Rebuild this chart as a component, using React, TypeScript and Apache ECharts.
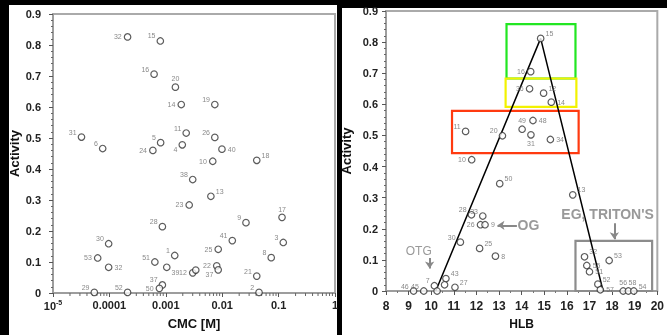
import React, { useEffect, useRef } from "react";
import * as echarts from "echarts";

// ---------- Left panel: Activity vs CMC ----------
const leftIds = ["32","15","16","20","14","19","31","6","5","24","11","26","4","40","18","10","38","13","23","17","9","41","3","25","8","1","28","22","37","12","","39","21","2","30","53","32","51","37","50","29","52"];
const leftCmc = [2.1e-4,8.0e-4,6.2e-4,1.48e-3,1.88e-3,7.4e-3,3.2e-5,7.6e-5,8.1e-4,5.9e-4,2.3e-3,7.4e-3,1.96e-3,9.9e-3,0.041,6.8e-3,3.0e-3,6.3e-3,2.6e-3,0.115,0.0264,0.0151,0.121,8.5e-3,0.074,1.44e-3,8.7e-4,8.0e-3,8.5e-3,3.0e-3,3.4e-3,1.04e-3,0.041,0.045,9.7e-5,6.2e-5,9.7e-5,6.4e-4,8.7e-4,7.7e-4,5.4e-5,2.1e-4];
const leftActivity = [0.826,0.813,0.706,0.664,0.608,0.608,0.503,0.466,0.485,0.46,0.516,0.502,0.478,0.464,0.428,0.425,0.366,0.312,0.284,0.244,0.227,0.169,0.163,0.141,0.114,0.121,0.214,0.0875,0.0747,0.065,0.074,0.083,0.0545,0.002,0.159,0.113,0.083,0.1,0.026,0.015,0.002,0.002];
const leftLabelSide = ["l","tl","tl","t","l","tl","tl","tl","tl","l","tl","tl","bl","r","tr","l","tl","tr","l","t","tl","tl","tl","l","tl","tl","tl","l","bl","l","","br","tl","tl","tl","l","r","tl","tl","l","tl","tl"];

const leftYTicks = [0, 0.1, 0.2, 0.3, 0.4, 0.5, 0.6, 0.7, 0.8, 0.9];
const cmcDecades = [1e-5, 1e-4, 1e-3, 1e-2, 1e-1, 1];

// ---------- Right panel: Activity vs HLB ----------
const rightIds = ["15","16","36","12","14","48","49","31","34","20","11","10","50","13","28","33","26","9","30","25","8","43","7","","","27","46","45","32","55","51","53","52","57","56","58","54"];
const rightHlb = [14.84,14.40,14.35,14.97,15.31,14.5,14.02,14.41,15.27,13.15,11.52,11.79,13.03,16.26,11.78,12.28,12.18,12.38,11.29,12.14,12.84,10.65,10.14,10.59,10.26,11.05,9.22,9.67,16.78,16.88,17.0,17.87,17.37,17.48,18.49,18.72,18.96];
const rightActivity = [0.812,0.705,0.65,0.636,0.607,0.548,0.52,0.502,0.487,0.499,0.513,0.422,0.345,0.309,0.245,0.241,0.213,0.213,0.157,0.137,0.112,0.04,0.017,0.02,0,0.012,0,0,0.11,0.082,0.062,0.098,0.022,0.004,0,0,0];
const rightLabelSide = ["tr","l","l","tr","r","r","t","b","r","tl","tl","l","tr","tr","tl","tl","l","r","tl","tr","r","tr","tl","","","tr","tl","tl","tr","r","r","tr","tr","r","t","ts","tr"];

// triangle guide
const triangleHlb = [10.2, 14.84, 17.6];
const triangleActivity = [0, 0.812, 0];

// boxes [hlbMin, hlbMax, actMin, actMax]
const boxHlbMin = [13.33, 13.29, 10.92, 16.38];
const boxHlbMax = [16.38, 16.42, 16.52, 19.77];
const boxActMin = [0.683, 0.592, 0.443, -0.013];
const boxActMax = [0.858, 0.683, 0.579, 0.161];
const boxColors = ["#22e622", "#f2f200", "#ff3a10", "#8c8c8c"];

// annotations
const noteText = ["OTG", "OG", "EG, TRITON'S"];
const noteHlb = [9.45, 14.3, 17.8];
const noteActivity = [0.128, 0.211, 0.247];
const arrowFromHlb = [9.93, 13.79, 18.1];
const arrowFromAct = [0.106, 0.211, 0.218];
const arrowToHlb = [9.93, 12.93, 18.1];
const arrowToAct = [0.072, 0.211, 0.166];

const FONT = "Liberation Sans, Arial, sans-serif";

function labelFor(side: string): any {
  const base = { show: true, fontSize: 7, color: "#6a6a6a", fontFamily: FONT };
  switch (side) {
    case "l": return { ...base, position: "left", distance: 2 };
    case "r": return { ...base, position: "right", distance: 2 };
    case "t": return { ...base, position: "top", distance: 1 };
    case "ts": return { ...base, position: "top", distance: 1, offset: [4, 0] };
    case "b": return { ...base, position: "bottom", distance: 1 };
    case "tl": return { ...base, position: "left", distance: 1, offset: [0, -5] };
    case "tr": return { ...base, position: "right", distance: 1, offset: [0, -5] };
    case "bl": return { ...base, position: "left", distance: 1, offset: [0, 5] };
    case "br": return { ...base, position: "right", distance: 1, offset: [0, 5] };
    default: return { show: false };
  }
}

const axisLabelStyle = { fontFamily: FONT, fontWeight: "bold" as const, fontSize: 11, color: "#222" };
const nameStyle = { fontFamily: FONT, fontWeight: "bold" as const, fontSize: 13, color: "#111" };

export default function App() {
  const ref = useRef<HTMLDivElement>(null);
  useEffect(() => {
    if (!ref.current) return;
    const chart = echarts.init(ref.current, undefined, { renderer: "svg" });

    const logMinor: number[][] = [];
    for (let d = 0; d < cmcDecades.length - 1; d++) {
      for (let k = 2; k <= 9; k++) logMinor.push([k * cmcDecades[d]]);
    }

    const leftData = leftCmc.map((c, i) => ({
      value: [c, leftActivity[i]],
      name: leftIds[i],
      label: { ...labelFor(leftLabelSide[i]), formatter: leftIds[i] },
    }));
    const rightData = rightHlb.map((h, i) => ({
      value: [h, rightActivity[i]],
      name: rightIds[i],
      label: { ...labelFor(rightLabelSide[i]), formatter: rightIds[i] },
    }));

    const pointStyle = { color: "#fff", borderColor: "#333", borderWidth: 1.2 };

    const option: any = {
      animation: false,
      backgroundColor: "transparent",
      grid: [
        { left: 53, top: 14, width: 282, height: 281, show: true, borderColor: "#aaa", borderWidth: 2, backgroundColor: "transparent" },
        { left: 386, top: 11, width: 279, height: 287, show: true, borderColor: "#aaa", borderWidth: 2, backgroundColor: "transparent" },
      ],
      xAxis: [
        {
          gridIndex: 0, type: "log", logBase: 10, min: cmcDecades[0], max: cmcDecades[cmcDecades.length - 1],
          splitLine: { show: false },
          axisLine: { lineStyle: { color: "#999", width: 1.5 } },
          axisTick: { show: true, length: 4, lineStyle: { color: "#555" } },
          axisLabel: {
            ...axisLabelStyle, margin: 6,
            formatter: (v: number) => (v < 5e-5 ? "{b|10}{s|-5}" : String(v)),
            rich: {
              b: { ...axisLabelStyle },
              s: { fontFamily: FONT, fontWeight: "bold", fontSize: 7, color: "#222", padding: [0, 0, 7, 0] },
            },
          },
          name: "CMC [M]", nameLocation: "middle", nameGap: 24, nameTextStyle: nameStyle,
        },
        {
          gridIndex: 1, type: "value", min: 8, max: 20, interval: 1,
          splitLine: { show: false },
          axisLine: { lineStyle: { color: "#999", width: 1.5 } },
          axisTick: { show: true, length: 4, lineStyle: { color: "#555" } },
          minorTick: { show: true, splitNumber: 2, length: 2, lineStyle: { color: "#777" } },
          axisLabel: { ...axisLabelStyle, fontSize: 12, margin: 9 },
          name: "HLB", nameLocation: "middle", nameGap: 27, nameTextStyle: { ...nameStyle, fontSize: 12 },
        },
      ],
      yAxis: [
        {
          gridIndex: 0, type: "value", min: leftYTicks[0], max: leftYTicks[leftYTicks.length - 1], interval: 0.1,
          splitLine: { show: false },
          axisLine: { lineStyle: { color: "#999", width: 1.5 } },
          axisTick: { show: true, length: 4, lineStyle: { color: "#555" } },
          minorTick: { show: true, splitNumber: 5, length: 2, lineStyle: { color: "#666" } },
          axisLabel: { ...axisLabelStyle, margin: 12, formatter: (v: number) => (Math.abs(v) < 1e-9 ? "0" : v.toFixed(1)) },
          name: "Activity", nameLocation: "middle", nameGap: 32, nameTextStyle: nameStyle,
        },
        {
          gridIndex: 1, type: "value", min: leftYTicks[0], max: leftYTicks[leftYTicks.length - 1], interval: 0.1,
          splitLine: { show: false },
          axisLine: { lineStyle: { color: "#999", width: 1.5 } },
          axisTick: { show: true, length: 4, lineStyle: { color: "#555" } },
          minorTick: { show: true, splitNumber: 5, length: 2, lineStyle: { color: "#666" } },
          axisLabel: { ...axisLabelStyle, margin: 8, formatter: (v: number) => (Math.abs(v) < 1e-9 ? "0" : v.toFixed(1)) },
          name: "Activity", nameLocation: "middle", nameGap: 33, nameTextStyle: nameStyle,
        },
      ],
      series: [
        {
          type: "custom", xAxisIndex: 0, yAxisIndex: 0, silent: true, clip: false,
          data: logMinor,
          renderItem: (_p: any, api: any) => {
            const pt = api.coord([api.value(0), 0]);
            return { type: "line", shape: { x1: pt[0], y1: pt[1], x2: pt[0], y2: pt[1] + 3 }, style: { stroke: "#666", lineWidth: 1 } };
          },
          encode: { x: 0 },
        },
        {
          type: "scatter", xAxisIndex: 0, yAxisIndex: 0, symbol: "circle", symbolSize: 6.5,
          itemStyle: pointStyle, data: leftData, clip: false,
        },
        {
          type: "line", xAxisIndex: 1, yAxisIndex: 1, symbol: "none", clip: false, silent: true,
          lineStyle: { color: "#000", width: 1.5 },
          data: triangleHlb.map((h, i) => [h, triangleActivity[i]]),
          z: 3,
          markArea: {
            silent: true,
            label: { show: false },
            data: boxHlbMin.map((h, i) => [
              { coord: [h, boxActMin[i]], itemStyle: { color: "transparent", borderColor: boxColors[i], borderWidth: 2.2 } },
              { coord: [boxHlbMax[i], boxActMax[i]] },
            ]),
          },
          markLine: {
            silent: true,
            symbol: ["none", "arrow"],
            symbolSize: 7,
            label: { show: false },
            lineStyle: { color: "#888", width: 2, type: "solid" },
            data: arrowFromHlb.map((h, i) => [
              { coord: [h, arrowFromAct[i]] },
              { coord: [arrowToHlb[i], arrowToAct[i]] },
            ]),
          },
        },
        {
          type: "scatter", xAxisIndex: 1, yAxisIndex: 1, symbol: "circle", symbolSize: 6.5,
          itemStyle: pointStyle, data: rightData, clip: false, z: 4,
        },
        {
          type: "scatter", xAxisIndex: 1, yAxisIndex: 1, symbolSize: 1, silent: true, z: 5,
          itemStyle: { color: "transparent" },
          data: noteHlb.map((h, i) => ({
            value: [h, noteActivity[i]],
            label: {
              show: true, position: "inside", formatter: noteText[i], fontFamily: FONT,
              fontSize: i === 0 ? 12 : 14, fontWeight: i === 0 ? "normal" : "bold", color: "#808080",
            },
          })),
        },
      ],
    };
    chart.setOption(option);
    return () => chart.dispose();
  }, []);

  return (
    <div style={{ position: "fixed", left: 0, top: 0, width: 667, height: 335, background: "#000", overflow: "hidden" }}>
      <div style={{ position: "absolute", left: 9, top: 5, width: 328, height: 330, background: "#fff" }} />
      <div style={{ position: "absolute", left: 342, top: 8, width: 325, height: 327, background: "#fff" }} />
      <div ref={ref} style={{ position: "absolute", left: 0, top: 0, width: 667, height: 335, willChange: "transform" }} />
    </div>
  );
}
